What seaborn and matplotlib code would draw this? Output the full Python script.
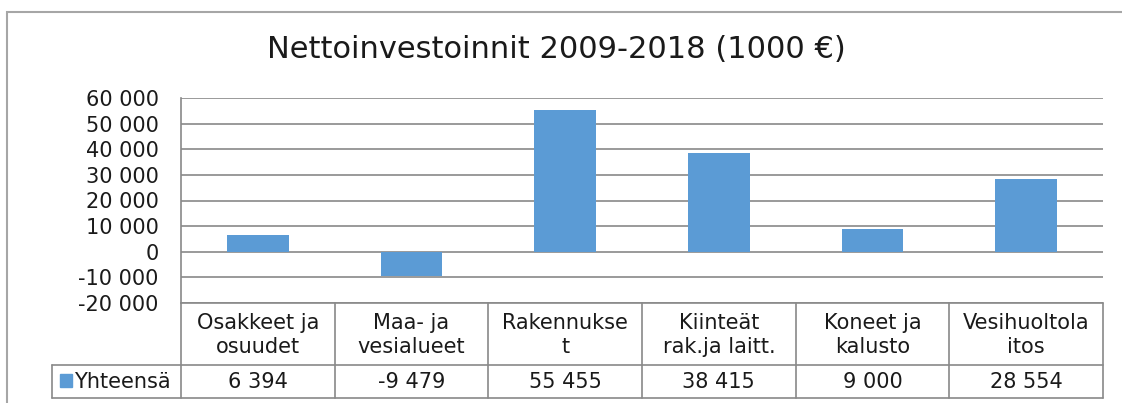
import matplotlib
matplotlib.use("Agg")
import matplotlib.pyplot as plt
import matplotlib.ticker as mticker
from matplotlib.patches import Rectangle
from matplotlib.lines import Line2D
import seaborn as sns

# ------------ data ------------
title = "Nettoinvestoinnit 2009-2018 (1000 €)"
categories = ["Osakkeet ja\nosuudet", "Maa- ja\nvesialueet", "Rakennukse\nt",
              "Kiinteät\nrak.ja laitt.", "Koneet ja\nkalusto", "Vesihuoltola\nitos"]
values = [6394, -9479, 55455, 38415, 9000, 28554]
series_name = "Yhteensä"
y_ticks = [-20000, -10000, 0, 10000, 20000, 30000, 40000, 50000, 60000]

BAR = "#5B9BD5"
GRID = "#898989"
FRAME = "#A6A6A6"
TXT = "#1a1a1a"
W, H = 1122, 403


def fmt(v):
    return f"{int(v):,}".replace(",", " ")


sns.set_style("white")
plt.rcParams["font.family"] = ["DejaVu Sans"]

fig = plt.figure(figsize=(W / 100, H / 100), dpi=100)

# outer chart frame
fig.add_artist(Rectangle((7 / W, -0.1), 1.2, 1 - 12 / H + 0.1, transform=fig.transFigure,
                         fill=False, ec=FRAME, lw=1.5))

fig.text(556 / W, 1 - 50 / H, title, ha="center", va="center", fontsize=22, color=TXT)

# ------------ bar plot ------------
x0, x1, ytop, ybot = 181, 1103, 98, 303
ax = fig.add_axes([x0 / W, 1 - ybot / H, (x1 - x0) / W, (ybot - ytop) / H])
sns.barplot(x=list(range(len(values))), y=values, color=BAR, width=0.4, ax=ax,
            saturation=1, linewidth=0, zorder=3)
ax.set_xlim(-0.5, len(values) - 0.5)
ax.set_ylim(y_ticks[0], y_ticks[-1])
ax.set_yticks(y_ticks)
ax.yaxis.set_major_formatter(mticker.FuncFormatter(lambda v, p: fmt(v)))
ax.set_xticks([])
ax.set_xlabel("")
ax.set_ylabel("")
ax.tick_params(axis="y", length=0, pad=16, labelsize=15, labelcolor=TXT)
ax.yaxis.grid(True, color=GRID, lw=1.2)
ax.set_axisbelow(True)
for s in ["top", "right", "bottom"]:
    ax.spines[s].set_visible(False)
ax.spines["left"].set_color(GRID)
ax.spines["left"].set_linewidth(1.2)

# ------------ data table ------------
tbot = 398
split = 365
tax = fig.add_axes([x0 / W, 1 - tbot / H, (x1 - x0) / W, (tbot - ybot) / H])
tax.set_xlim(-0.5, len(values) - 0.5)
tax.set_ylim(tbot, ybot)
tax.axis("off")
colw = (x1 - x0) / len(values)
leg_left = -0.5 - (x0 - 52) / colw

def hline(xa, xb, y):
    tax.add_line(Line2D([xa, xb], [y, y], color=GRID, lw=1.2, clip_on=False))

def vline(x, ya, yb):
    tax.add_line(Line2D([x, x], [ya, yb], color=GRID, lw=1.2, clip_on=False))

hline(-0.5, len(values) - 0.5, ybot)
hline(leg_left, len(values) - 0.5, split)
hline(leg_left, len(values) - 0.5, tbot)
for i in range(len(values) + 1):
    vline(i - 0.5, ybot, tbot)
vline(leg_left, split, tbot)

for i, (c, v) in enumerate(zip(categories, values)):
    tax.text(i, (ybot + split) / 2 + 1, c, ha="center", va="center", fontsize=15,
             linespacing=1.2, color=TXT)
    tax.text(i, (split + tbot) / 2 + 1, fmt(v), ha="center", va="center", fontsize=15,
             color=TXT)

tax.add_patch(Rectangle((leg_left + 8 / colw, 387), 12 / colw, -13, color=BAR, clip_on=False))
tax.text(leg_left + 22 / colw, (split + tbot) / 2 + 1, series_name, ha="left", va="center",
         fontsize=15, color=TXT)

fig.savefig("out.png", dpi=100)
